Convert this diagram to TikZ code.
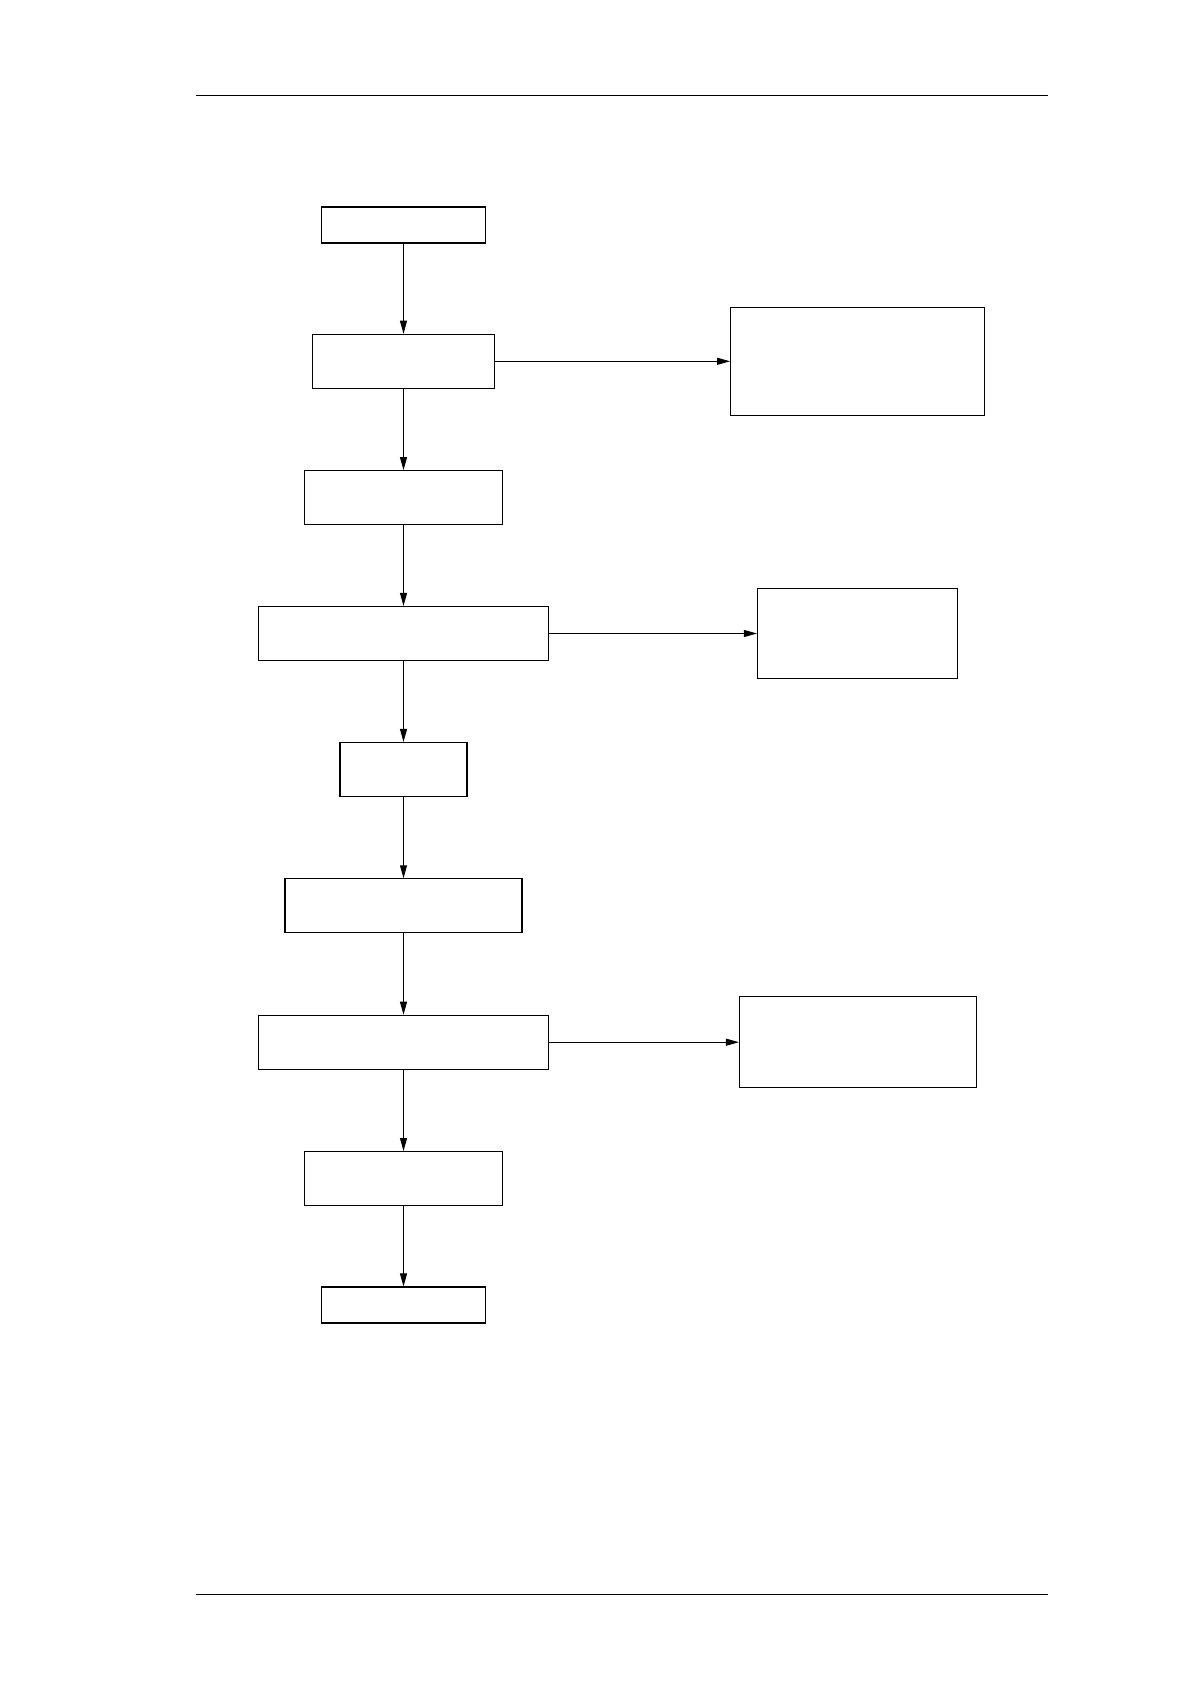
\documentclass[tikz,border=0pt]{standalone}
\usetikzlibrary{arrows.meta}
\tikzset{
  box/.style={draw, line width=0.55pt, inner sep=0pt, minimum height=27pt},
  flow/.style={draw, line width=0.5pt, -{Triangle[length=6.5pt,width=3.5pt]}}
}
\begin{document}
\begin{tikzpicture}[x=0.5pt,y=-0.5pt]
        \useasboundingbox (0,0) rectangle (1188,1684);
        \draw[line width=0.6pt] (196,95.5) -- (1048,95.5);
        \draw[line width=0.6pt] (196,1594.5) -- (1048,1594.5);
        % main column
        \node[box, minimum width=82pt, minimum height=18pt] (start) at (403.5,225) {};
        \node[box, minimum width=91pt] (s1) at (403.5,361.3) {};
        \node[box, minimum width=99pt] (s2) at (403.5,497.7) {};
        \node[box, minimum width=145pt] (s3) at (403.5,633.5) {};
        \node[box, minimum width=63.5pt] (s4) at (403.5,769.5) {};
        \node[box, minimum width=118.5pt] (s5) at (403.5,905.8) {};
        \node[box, minimum width=145pt] (s6) at (403.5,1042.2) {};
        \node[box, minimum width=99pt] (s7) at (403.5,1178.6) {};
        \node[box, minimum width=82pt, minimum height=18pt] (stop) at (403.5,1305) {};
        % side boxes
        \node[box, minimum width=126.9pt, minimum height=53.8pt] (r1) at (857.5,361.3) {};
        \node[box, minimum width=100pt, minimum height=44.8pt] (r2) at (857.5,633.5) {};
        \node[box, minimum width=118.5pt, minimum height=45.3pt] (r3) at (858,1042.2) {};
        \draw[flow] (start) -- (s1);
        \draw[flow] (s1) -- (s2);
        \draw[flow] (s2) -- (s3);
        \draw[flow] (s3) -- (s4);
        \draw[flow] (s4) -- (s5);
        \draw[flow] (s5) -- (s6);
        \draw[flow] (s6) -- (s7);
        \draw[flow] (s7) -- (stop);
        \draw[flow] (s1) -- (r1);
        \draw[flow] (s3) -- (r2);
        \draw[flow] (s6) -- (r3);
    \end{tikzpicture}
\end{document}
